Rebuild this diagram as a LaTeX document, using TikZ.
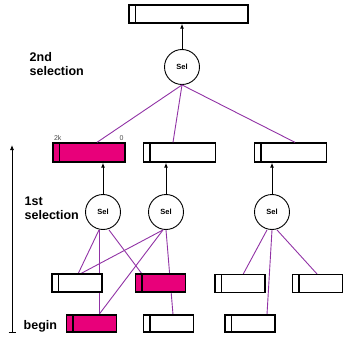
\documentclass[tikz,border=0pt]{standalone}
\usepackage{fontspec}
\setmainfont{Liberation Sans}
\usetikzlibrary{arrows.meta}
\definecolor{mag}{RGB}{232,0,122}
\definecolor{lnk}{RGB}{145,50,165}
\tikzset{
  reg/.style={draw=black, line width=1.3pt, fill=#1, inner sep=0pt,
    path picture={\draw[line width=1.3pt] ([xshift=6.5pt]path picture bounding box.north west) -- ([xshift=6.5pt]path picture bounding box.south west);}},
  reg/.default=white,
  wide/.style={reg=#1, minimum width=72pt, minimum height=19pt},
  wide/.default=white,
  small/.style={reg=#1, minimum width=50pt, minimum height=18pt},
  small/.default=white,
  sel/.style={draw=black, line width=0.9pt, circle, fill=white, minimum size=35pt, inner sep=0pt, font=\bfseries\fontsize{7.5}{8}\selectfont},
  link/.style={draw=lnk, line width=0.9pt},
  up/.style={draw=black, line width=1pt, -{Latex[length=5pt,width=4pt]}},
  lbl/.style={font=\bfseries\fontsize{12.5}{14}\selectfont, align=left, inner sep=0pt},
  tiny/.style={font=\fontsize{7}{8}\selectfont, text=black!70, inner sep=0pt}
}
\begin{document}
\begin{tikzpicture}[x=1pt,y=-1pt]
\useasboundingbox (0,0) rectangle (343,337);
% upper nodes
\node[reg, minimum width=119pt, minimum height=18pt] (top) at (188.5,14) {};
\node[sel] (s0) at (182,67) {Sel};
\node[wide=mag] (b1) at (89,152.5) {};
\node[wide] (b2) at (179.5,152.5) {};
\node[wide] (b3) at (290.5,152.5) {};
\node[sel] (s1) at (103,212) {Sel};
\node[sel] (s2) at (166,212) {Sel};
\node[sel] (s3) at (272,212) {Sel};
% links from 2nd selection
\path[link] (s0.south) -- ([xshift=8pt]b1.north);
\path[link] (s0.south) -- ([xshift=-6.5pt]b2.north);
\path[link] (s0.south) -- ([xshift=4.5pt]b3.north);
% lower rows (centres)
\coordinate (Ac) at (77,283);
\coordinate (Bc) at (160.5,283);
\coordinate (Cc) at (240,283.5);
\coordinate (Dc) at (317.5,283.5);
\coordinate (Ec) at (91.5,323.5);
\coordinate (Fc) at (168.5,323.5);
\coordinate (Gc) at (250,323.5);
% links from 1st selection (drawn first, boxes cover them)
\path[link] ([xshift=-4pt]s1.south) -- ([xshift=7.5pt]Ec |- 0,314.5) coordinate (eTop);
\path[link] ([xshift=-4pt]s1.south) -- ([xshift=1pt]Ac |- 0,274);
\path[link] ([xshift=6pt]s1.south) -- (142,274);
\path[link] ([xshift=-3pt]s2.south) -- ([xshift=3pt]Ac |- 0,274);
\path[link] ([xshift=-3pt]s2.south) -- (eTop);
\path[link] (s2.south) -- ([xshift=4.5pt]Fc |- 0,314.5);
\path[link] ([xshift=-5pt]s3.south) -- ([xshift=3pt]Cc |- 0,274.5);
\path[link] (s3.south) -- ([xshift=17pt]Gc |- 0,314.5);
\path[link] ([xshift=5pt]s3.south) -- (Dc |- 0,274.5);
\node[small] (A) at (Ac) {};
\node[small=mag] (B) at (Bc) {};
\node[small] (C) at (Cc) {};
\node[small] (D) at (Dc) {};
\node[small=mag, minimum height=17pt] (E) at (Ec) {};
\node[small, minimum height=17pt] (F) at (Fc) {};
\node[small, minimum height=17pt] (G) at (Gc) {};
% arrows
\draw[up] (s0.north) -- (s0.north |- top.south);
\draw[up] (s1.north) -- (s1.north |- b1.south);
\draw[up] (s2.north) -- (s2.north |- b2.south);
\draw[up] (s3.north) -- (s3.north |- b3.south);
% time axis
\coordinate (ax0) at (12,332);
\coordinate (ax1) at (12,145);
\draw[up, line width=0.8pt] (ax0) -- (ax1);
\draw[line width=0.8pt] ([xshift=-3.5pt]ax0) -- ([xshift=3.5pt]ax0);
% labels
\node[lbl, anchor=north west] (l2) at (29.5,52) {2nd\\selection};
\node[lbl, anchor=north west] (l1) at (24.5,197) {1st\\selection};
\node[lbl, anchor=west] (lb) at (23.5,326) {begin};
\node[tiny, anchor=south west] (k2) at ([xshift=1.5pt,yshift=2pt]b1.north west) {2k};
\node[tiny, anchor=south east] (k0) at ([xshift=-2pt,yshift=2pt]b1.north east) {0};
\end{tikzpicture}
\end{document}
